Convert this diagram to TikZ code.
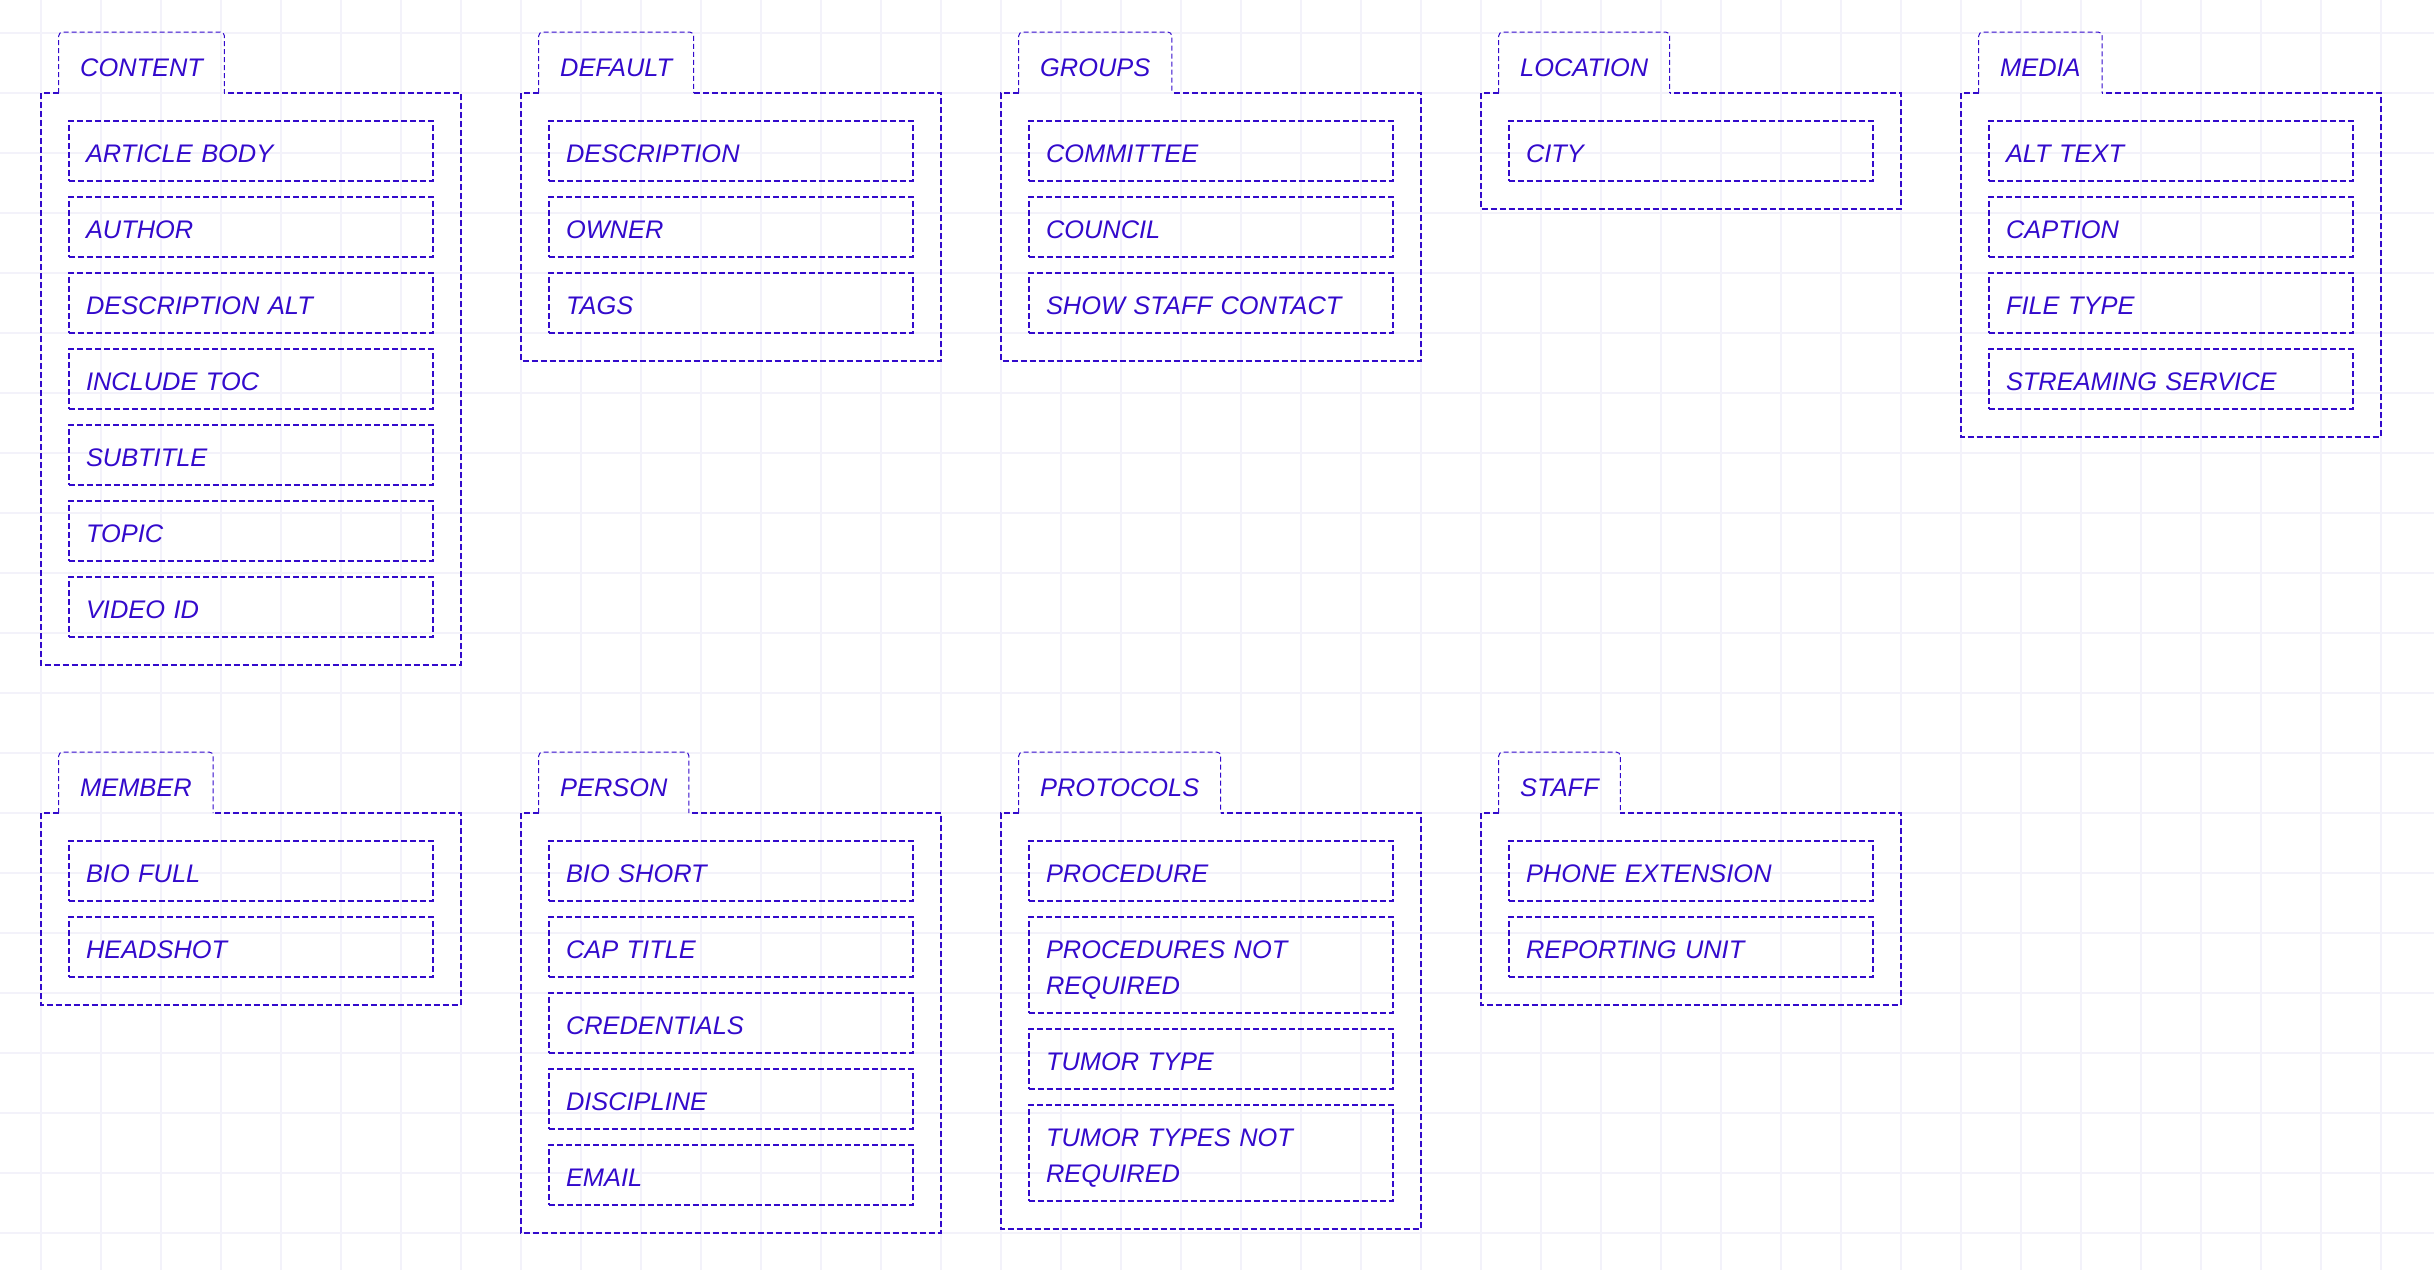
\documentclass[tikz,border=0pt]{standalone}
\usepackage{fontspec}
\setmainfont{Liberation Sans}
\definecolor{ink}{RGB}{51,10,204}
\definecolor{gridc}{RGB}{243,242,250}
\tikzset{
  gridline/.style={draw=gridc, line width=1pt},
  boxline/.style={draw=ink, line width=1pt, dash pattern=on 3pt off 1.5pt},
  tabline/.style={draw=ink, line width=0.5pt, dash pattern=on 2.5pt off 1.5pt, rounded corners=2pt},
  container/.style={inner sep=0pt, outer sep=0pt, minimum width=210pt},
  tabbox/.style={inner xsep=10.75pt, inner ysep=0pt, outer sep=0pt, text height=22pt, text depth=8.5pt,
    font=\itshape\fontsize{12.7pt}{18pt}\selectfont, text=ink},
  field/.style={boxline, anchor=north west, inner xsep=8.65pt, inner ysep=0pt, outer sep=0pt,
    text width=164.7pt, align=left, minimum width=182pt,
    text height=20.75pt, text depth=9.25pt,
    font=\itshape\fontsize{12.7pt}{18pt}\selectfont, text=ink},
  fieldtwo/.style={field, text depth=27.25pt},
}
\newcommand\grpframe[1]{%
  \draw[boxline] (#1-tab.south west) -- (#1.north west) -- (#1.south west)
    -- (#1.south east) -- (#1.north east) -- (#1-tab.south east);
  \draw[tabline] (#1-tab.south west) -- (#1-tab.north west) -- (#1-tab.north east) -- (#1-tab.south east);
}
\newcommand\grp[5]{% name, title, x, y, height in pt
  \node[container, anchor=north west, minimum height=#5] (#1) at (#3,#4) {};
  \node[tabbox, anchor=south west] (#1-tab) at ([xshift=9pt]#1.north west) {#2};
  \grpframe{#1}
}
\newcommand\firstfld[3]{% group, name, text
  \node[field] (#2) at ([shift={(14pt,-14pt)}]#1.north west) {#3};}
\newcommand\nextfld[4][field]{% style, prev, name, text
  \node[#1] (#3) at ([yshift=-8pt]#2.south west) {#4};}
\begin{document}
\begin{tikzpicture}[x=0.5pt, y=-0.5pt]
\useasboundingbox (0,0) rectangle (2434,1270);
\fill[white] (0,0) rectangle (2434,1270);
\foreach \x in {41,101,...,2434} \draw[gridline] (\x,0) -- (\x,1270);
\foreach \y in {33,93,...,1270} \draw[gridline] (0,\y) -- (2434,\y);

% Row 1
\grp{content}{CONTENT}{40.7}{93}{286pt}
\firstfld{content}{content-1}{ARTICLE BODY}
\nextfld{content-1}{content-2}{AUTHOR}
\nextfld{content-2}{content-3}{DESCRIPTION ALT}
\nextfld{content-3}{content-4}{INCLUDE TOC}
\nextfld{content-4}{content-5}{SUBTITLE}
\nextfld{content-5}{content-6}{TOPIC}
\nextfld{content-6}{content-7}{VIDEO ID}

\grp{default}{DEFAULT}{520.7}{93}{134pt}
\firstfld{default}{default-1}{DESCRIPTION}
\nextfld{default-1}{default-2}{OWNER}
\nextfld{default-2}{default-3}{TAGS}

\grp{groups}{GROUPS}{1000.7}{93}{134pt}
\firstfld{groups}{groups-1}{COMMITTEE}
\nextfld{groups-1}{groups-2}{COUNCIL}
\nextfld{groups-2}{groups-3}{SHOW STAFF CONTACT}

\grp{location}{LOCATION}{1480.7}{93}{58pt}
\firstfld{location}{location-1}{CITY}

\grp{media}{MEDIA}{1960.7}{93}{172pt}
\firstfld{media}{media-1}{ALT TEXT}
\nextfld{media-1}{media-2}{CAPTION}
\nextfld{media-2}{media-3}{FILE TYPE}
\nextfld{media-3}{media-4}{STREAMING SERVICE}

% Row 2
\grp{member}{MEMBER}{40.7}{813}{96pt}
\firstfld{member}{member-1}{BIO FULL}
\nextfld{member-1}{member-2}{HEADSHOT}

\grp{person}{PERSON}{520.7}{813}{210pt}
\firstfld{person}{person-1}{BIO SHORT}
\nextfld{person-1}{person-2}{CAP TITLE}
\nextfld{person-2}{person-3}{CREDENTIALS}
\nextfld{person-3}{person-4}{DISCIPLINE}
\nextfld{person-4}{person-5}{EMAIL}

\grp{protocols}{PROTOCOLS}{1000.7}{813}{208pt}
\firstfld{protocols}{protocols-1}{PROCEDURE}
\nextfld[fieldtwo]{protocols-1}{protocols-2}{PROCEDURES NOT\\REQUIRED}
\nextfld{protocols-2}{protocols-3}{TUMOR TYPE}
\nextfld[fieldtwo]{protocols-3}{protocols-4}{TUMOR TYPES NOT\\REQUIRED}

\grp{staff}{STAFF}{1480.7}{813}{96pt}
\firstfld{staff}{staff-1}{PHONE EXTENSION}
\nextfld{staff-1}{staff-2}{REPORTING UNIT}
\end{tikzpicture}
\end{document}
